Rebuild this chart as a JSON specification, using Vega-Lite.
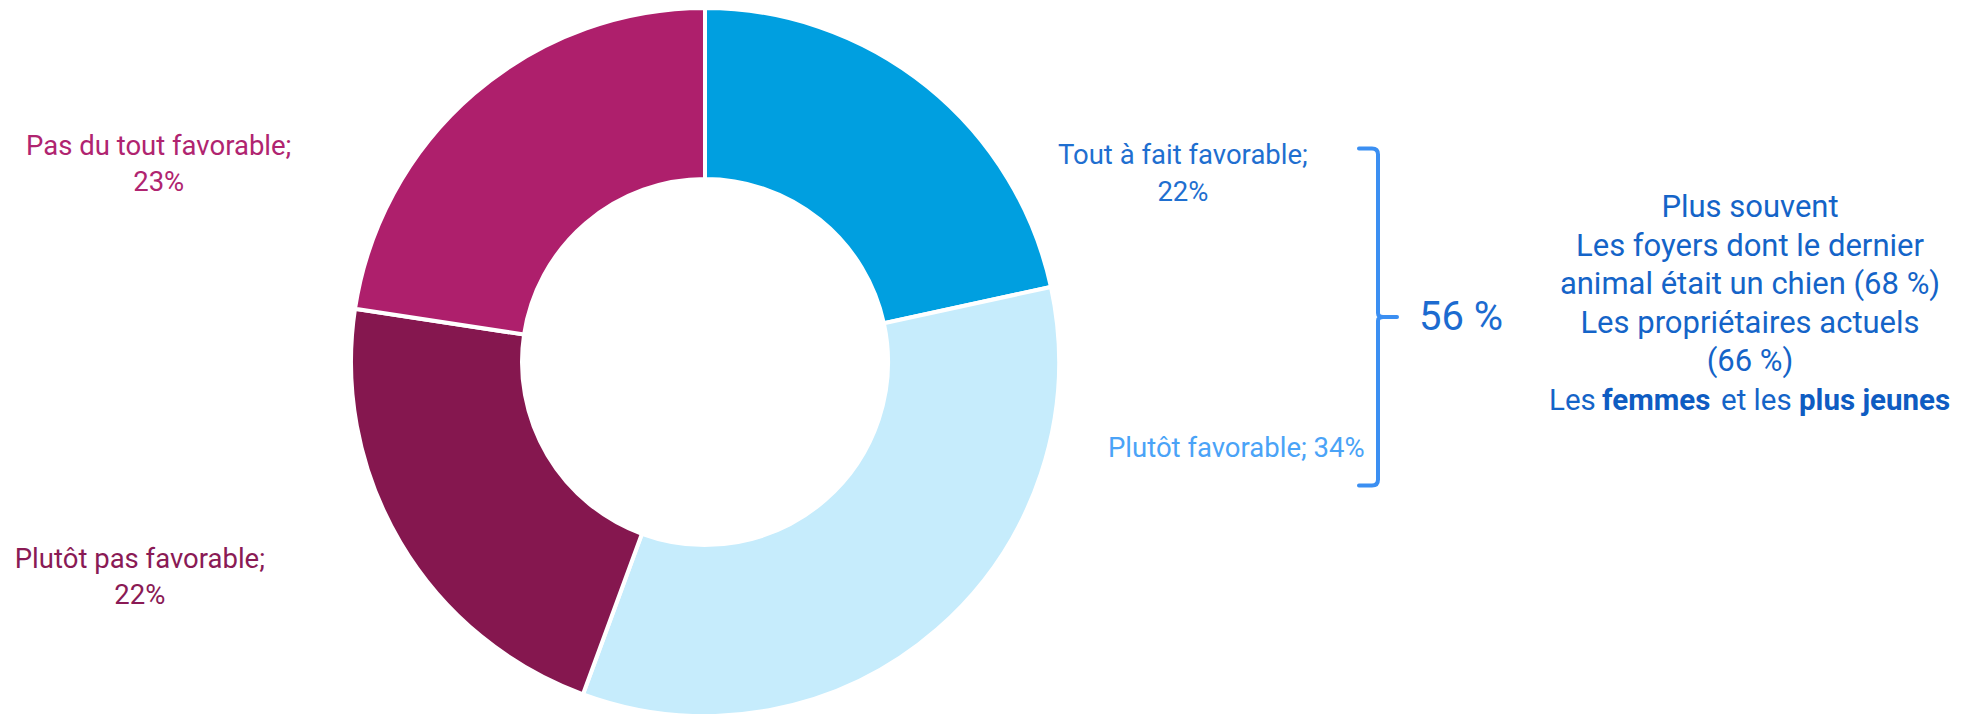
{
  "$schema": "https://vega.github.io/schema/vega-lite/v6.json",
  "width": 1967,
  "height": 714,
  "autosize": {"type": "none"},
  "padding": 0,
  "background": "white",
  "config": {"view": {"stroke": null}, "font": "Roboto"},
  "data": {
    "values": [
      {"n": 1, "categorie": "Tout à fait favorable", "valeur": 21.6, "etiquette": ["Tout à fait favorable;", "22%"]},
      {"n": 2, "categorie": "Plutôt favorable", "valeur": 34.0, "etiquette": ["Plutôt favorable; 34%"]},
      {"n": 3, "categorie": "Plutôt pas favorable", "valeur": 21.8, "etiquette": ["Plutôt pas favorable;", "22%"]},
      {"n": 4, "categorie": "Pas du tout favorable", "valeur": 22.6, "etiquette": ["Pas du tout favorable;", "23%"]}
    ]
  },
  "layer": [
    {
      "mark": {"type": "arc", "x": 705, "y": 362, "outerRadius": 354, "innerRadius": 183, "stroke": "white", "strokeWidth": 4},
      "encoding": {
        "theta": {"field": "valeur", "type": "quantitative", "stack": true},
        "order": {"field": "n", "type": "ordinal"},
        "color": {
          "field": "categorie", "type": "nominal", "legend": null,
          "scale": {
            "domain": ["Tout à fait favorable", "Plutôt favorable", "Plutôt pas favorable", "Pas du tout favorable"],
            "range": ["#009FE0", "#C6ECFC", "#85174F", "#AE1F6C"]
          }
        }
      }
    },
    {
      "mark": {
        "type": "text", "x": 705, "y": 362, "radius": 430, "fontSize": 27.5, "lineHeight": 36.5,
        "align": "center", "baseline": "middle",
        "dx": {"expr": "datum.n == 1 ? 208 : datum.n == 2 ? 249 : datum.n == 3 ? -195 : -266"},
        "dy": {"expr": "datum.n == 1 ? 129 : datum.n == 2 ? -237 : datum.n == 3 ? -21 : 111"}
      },
      "encoding": {
        "theta": {"field": "valeur", "type": "quantitative", "stack": true},
        "order": {"field": "n", "type": "ordinal"},
        "text": {"field": "etiquette"},
        "color": {
          "field": "categorie", "type": "nominal", "legend": null,
          "scale": {
            "domain": ["Tout à fait favorable", "Plutôt favorable", "Plutôt pas favorable", "Pas du tout favorable"],
            "range": ["#1F6FD0", "#4AA3F7", "#8A1A55", "#B02470"]
          }
        }
      }
    },
    {
      "data": {"values": [{"forme": "accolade"}]},
      "mark": {
        "type": "point", "x": 1378, "y": 317, "size": 113569, "filled": false, "opacity": 1,
        "stroke": "#3B8FF2", "strokeWidth": 4, "strokeCap": "round", "strokeJoin": "round",
        "shape": "M-0.1128,-1 L-0.0356,-1 Q0,-1 0,-0.9644 L0,-0.0237 Q0,0 0.0297,0 L0.1128,0 M0.0297,0 Q0,0 0,0.0237 L0,0.9644 Q0,1 -0.0356,1 L-0.1128,1"
      },
      "encoding": {}
    },
    {
      "data": {"values": [{"total": "56 %"}]},
      "mark": {"type": "text", "x": 1461, "y": 318, "fontSize": 40, "align": "center", "baseline": "middle", "color": "#1C6BD0"},
      "encoding": {"text": {"field": "total"}}
    },
    {
      "data": {"values": [{"lignes": ["Plus souvent", "Les foyers dont le dernier", "animal était un chien (68 %)", "Les propriétaires actuels", "(66 %)"]}]},
      "mark": {"type": "text", "x": 1750, "y": 208, "fontSize": 31, "lineHeight": 38.6, "align": "center", "baseline": "middle", "color": "#1464C8"},
      "encoding": {"text": {"field": "lignes"}}
    },
    {
      "data": {"values": [{"mot": "Les"}]},
      "mark": {"type": "text", "x": 1549, "y": 401, "fontSize": 29.5, "align": "left", "baseline": "middle", "color": "#1464C8"},
      "encoding": {"text": {"field": "mot"}}
    },
    {
      "data": {"values": [{"mot": "femmes"}]},
      "mark": {"type": "text", "x": 1602, "y": 401, "fontSize": 29.5, "fontWeight": "bold", "align": "left", "baseline": "middle", "color": "#0E5CC2"},
      "encoding": {"text": {"field": "mot"}}
    },
    {
      "data": {"values": [{"mot": "et les"}]},
      "mark": {"type": "text", "x": 1721, "y": 401, "fontSize": 29.5, "align": "left", "baseline": "middle", "color": "#1464C8"},
      "encoding": {"text": {"field": "mot"}}
    },
    {
      "data": {"values": [{"mot": "plus jeunes"}]},
      "mark": {"type": "text", "x": 1799, "y": 401, "fontSize": 29.5, "fontWeight": "bold", "align": "left", "baseline": "middle", "color": "#0E5CC2"},
      "encoding": {"text": {"field": "mot"}}
    }
  ],
  "resolve": {"scale": {"color": "independent"}}
}
